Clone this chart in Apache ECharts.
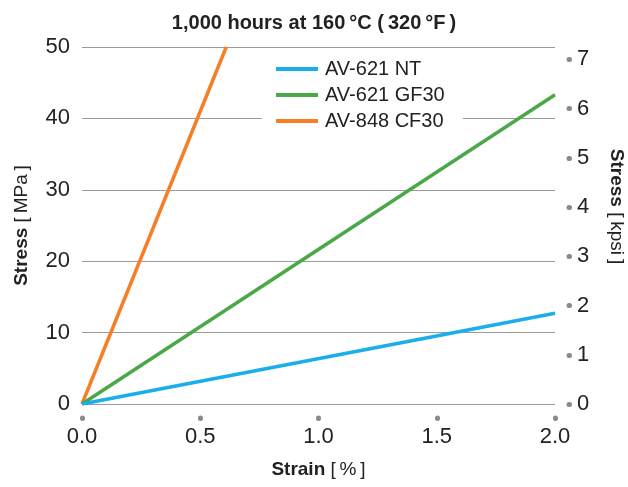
<!DOCTYPE html>
<html><head><meta charset="utf-8">
<script src="https://cdn.jsdelivr.net/npm/echarts@6/dist/echarts.min.js"></script>
<style>html,body{margin:0;padding:0;background:#fff}#c{width:628px;height:487px}</style>
</head><body><div id="c"></div>
<script>
var seriesNames = ['AV-621 NT', 'AV-621 GF30', 'AV-848 CF30'];
var ntData = [[0, 0], [2.0, 12.7]];
var gf30Data = [[0, 0], [2.0, 43.3]];
var cf30Data = [[0, 0], [0.61, 50]];
var xTicks = [0, 0.5, 1.0, 1.5, 2.0];
var kpsiTicks = [0, 1, 2, 3, 4, 5, 6, 7];
var MPA_PER_KPSI = 6.894757;

var FONT = 'Liberation Sans, Arial, Helvetica, sans-serif';
var TXT = '#222';
var chart = echarts.init(document.getElementById('c'));
chart.setOption({
  animation: false,
  backgroundColor: '#fff',
  title: {
    text: '1,000 hours at 160\u2009°C (\u2009320\u2009°F\u2009)',
    left: 'center', top: 8,
    textStyle: {fontFamily: FONT, fontSize: 20, fontWeight: 'bold', color: TXT}
  },
  legend: {
    data: seriesNames,
    orient: 'vertical', left: 262, top: 56,
    icon: 'rect', itemWidth: 42, itemHeight: 4, itemGap: 6,
    backgroundColor: '#fff', padding: [3, 18, 3, 14],
    textStyle: {fontFamily: FONT, fontSize: 20, color: TXT, padding: [0, 0, 0, 2]}
  },
  grid: {left: 82, right: 73, top: 47, bottom: 83, containLabel: false, outerBoundsMode: 'none'},
  xAxis: {
    type: 'value', min: 0, max: 2, interval: 0.5, offset: 14,
    name: '{b|Strain} [\u2009%\u2009]', nameLocation: 'middle', nameGap: 42,
    nameTextStyle: {fontFamily: FONT, fontSize: 19, color: TXT,
      rich: {b: {fontFamily: FONT, fontSize: 19, fontWeight: 'bold', color: TXT}}},
    axisLine: {show: false, onZero: false},
    axisTick: {show: true, customValues: xTicks, length: 0.5, lineStyle: {color: '#8a8a8a', width: 5, cap: 'round'}},
    axisLabel: {customValues: xTicks, margin: 8, fontFamily: FONT, fontSize: 22, color: TXT,
      formatter: function (v) { return v.toFixed(1); }},
    splitLine: {show: false}
  },
  yAxis: [{
    type: 'value', min: 0, max: 50, interval: 10,
    name: '{b|Stress} [\u2009MPa\u2009]', nameLocation: 'middle', nameGap: 51,
    nameTextStyle: {fontFamily: FONT, fontSize: 19, color: TXT,
      rich: {b: {fontFamily: FONT, fontSize: 19, fontWeight: 'bold', color: TXT}}},
    axisLine: {show: false, onZero: false}, axisTick: {show: false},
    axisLabel: {margin: 12, fontFamily: FONT, fontSize: 22, color: TXT},
    splitLine: {show: true, lineStyle: {color: '#9a9a9a', width: 1}}
  }, {
    type: 'value', position: 'right', min: 0, max: 50 / MPA_PER_KPSI, offset: 14,
    name: '{b|Stress} [\u2009kpsi\u2009]', nameLocation: 'middle', nameGap: 38, nameRotate: -90,
    nameTextStyle: {fontFamily: FONT, fontSize: 19, color: TXT, padding: [0, 38, 0, 0],
      rich: {b: {fontFamily: FONT, fontSize: 19, fontWeight: 'bold', color: TXT}}},
    axisLine: {show: false, onZero: false},
    axisTick: {show: true, customValues: kpsiTicks, length: 0.5, lineStyle: {color: '#8a8a8a', width: 5, cap: 'round'}},
    axisLabel: {customValues: kpsiTicks, margin: 8, fontFamily: FONT, fontSize: 22, color: TXT},
    splitLine: {show: false}
  }],
  series: [
    {name: seriesNames[0], type: 'line', data: ntData, showSymbol: false, symbol: 'none',
     lineStyle: {color: '#1aaeeb', width: 3.5}, itemStyle: {color: '#1aaeeb'}, z: 3},
    {name: seriesNames[1], type: 'line', data: gf30Data, showSymbol: false, symbol: 'none',
     lineStyle: {color: '#4aa847', width: 3.5}, itemStyle: {color: '#4aa847'}, z: 2},
    {name: seriesNames[2], type: 'line', data: cf30Data, showSymbol: false, symbol: 'none',
     lineStyle: {color: '#f57f27', width: 3.5}, itemStyle: {color: '#f57f27'}, z: 1}
  ]
});
</script></body></html>
